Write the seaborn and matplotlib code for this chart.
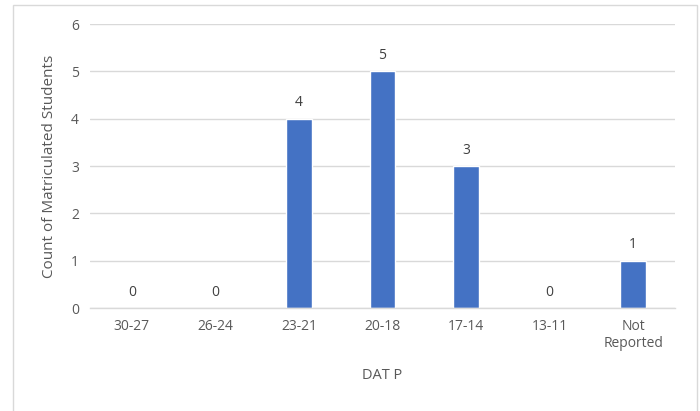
import matplotlib
matplotlib.use("Agg")
import matplotlib.pyplot as plt
import seaborn as sns
import pandas as pd
from matplotlib.patches import Rectangle

# data
categories = ["30-27", "26-24", "23-21", "20-18", "17-14", "13-11", "Not\nReported"]
counts = [0, 0, 4, 5, 3, 0, 1]

df = pd.DataFrame({"DAT P": categories, "Count": counts})

sns.set_theme(style="white")
plt.rcParams["font.family"] = ["Open Sans", "DejaVu Sans"]
text_col = "#595959"
grid_col = "#D9D9D9"

fig = plt.figure(figsize=(7, 4.11), dpi=100)
ax = fig.add_axes([0.1286, 0.2506, 0.8357, 0.691])

sns.barplot(data=df, x="DAT P", y="Count", color="#4472C4", width=0.31,
            saturation=1, ax=ax)

ax.set_ylim(0, 6)
ax.set_yticks(range(0, 7))
ax.yaxis.grid(True, color=grid_col, linewidth=1)
ax.set_axisbelow(True)
for s in ["top", "right", "left"]:
    ax.spines[s].set_visible(False)
ax.spines["bottom"].set_color(grid_col)
ax.spines["bottom"].set_linewidth(1)
ax.tick_params(axis="both", length=0, labelsize=10, labelcolor=text_col, pad=8)

for i, v in enumerate(counts):
    ax.annotate(str(v), (i, v), xytext=(0, 6), textcoords="offset points",
                ha="center", va="bottom", fontsize=10, color="#404040")

ax.set_xlabel("DAT P", fontsize=10.5, color=text_col, labelpad=12)
ax.set_ylabel("Count of Matriculated Students", fontsize=11, color=text_col, labelpad=10)

# light border round the chart area
fig.patches.append(Rectangle((13 / 700, -0.01), 684 / 700, 1 - 5 / 411 + 0.01,
                             transform=fig.transFigure, fill=False,
                             edgecolor="#D9D9D9", linewidth=1))

fig.savefig("out.png", dpi=100)
